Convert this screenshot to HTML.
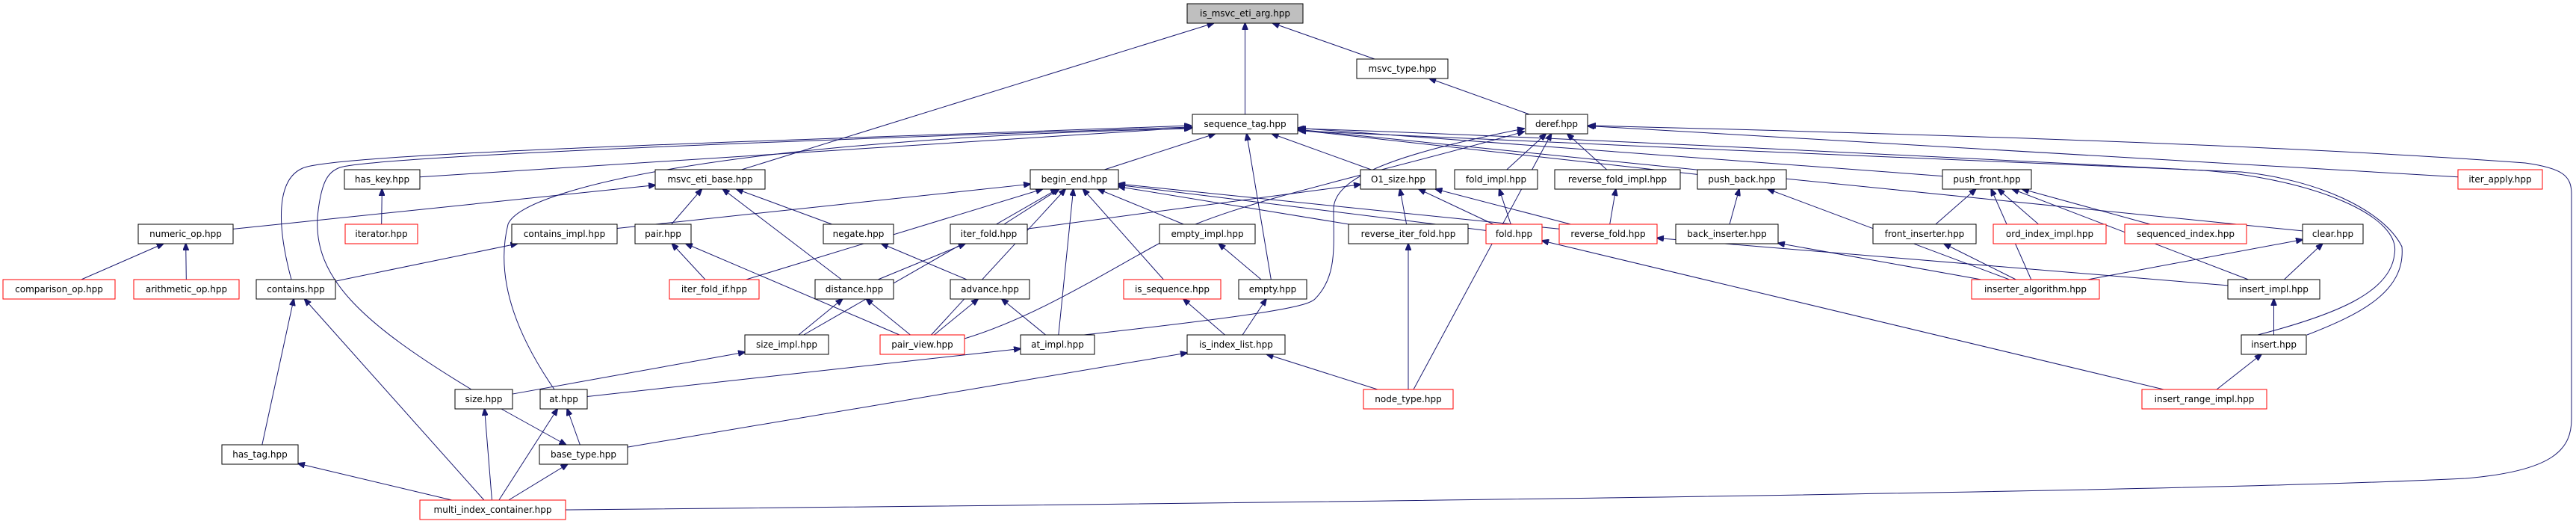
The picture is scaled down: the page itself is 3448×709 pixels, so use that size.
<!DOCTYPE html>
<html><head><meta charset="utf-8">
<style>
html,body{margin:0;padding:0;background:#fff;}
svg{display:block;}
text{font-family:"DejaVu Sans","Liberation Sans",sans-serif;font-size:12px;}
</style></head>
<body>
<svg id="g" width="3448" height="709" viewBox="0 0 3448 709" xmlns="http://www.w3.org/2000/svg">
<defs><marker id="a" markerWidth="10" markerHeight="8" refX="9" refY="4" orient="auto" markerUnits="userSpaceOnUse"><path d="M0,0 L10,4 L0,8 z" fill="#191970" stroke="#191970"/></marker></defs>
<g id="edges" fill="none" stroke="#191970" stroke-width="1">
<path d="M757,682 C1500,675 2900,660 3300,640 C3420,630 3442,600 3442,560 L3442,260 C3442,235 3430,225 3380,218 C3000,190 2400,175 2127,168" marker-end="url(#a)"/>
<path d="M390,374 C370,300 370,240 405,225 C450,205 1000,190 1594,168" marker-end="url(#a)"/>
<path d="M631,521 C480,430 420,370 425,290 C430,240 440,230 455,224 C500,210 1000,190 1594,170" marker-end="url(#a)"/>
<path d="M742,521 C700,460 660,380 680,300 C700,250 1000,185 1594,172" marker-end="url(#a)"/>
<path d="M1451,448 C1700,420 1750,410 1760,400 C1790,370 1785,330 1785,280 C1785,230 1900,200 2040,172" marker-end="url(#a)"/>
<path d="M1291,453 C1400,420 1500,350 1600,300 C1700,260 1850,230 2040,176" marker-end="url(#a)"/>
<path d="M3022,448 C3130,420 3200,390 3205,340 C3215,290 3100,240 2950,228 C2600,210 2000,180 1739,172" marker-end="url(#a)"/>
<path d="M3088,448 C3160,420 3220,390 3215,330 C3190,280 3100,240 3000,230 C2700,220 2100,190 1739,175" marker-end="url(#a)"/>
</g>
<g id="nodes" stroke-width="1">
<rect x="1589" y="5" width="155" height="26" fill="#bfbfbf" stroke="#000"/><text x="1666.5" y="22" text-anchor="middle">is_msvc_eti_arg.hpp</text>
<rect x="1816" y="79" width="122" height="26" fill="#fff" stroke="#000"/><text x="1877" y="96" text-anchor="middle">msvc_type.hpp</text>
<rect x="1596" y="153" width="141" height="26" fill="#fff" stroke="#000"/><text x="1666.5" y="170" text-anchor="middle">sequence_tag.hpp</text>
<rect x="2042" y="153" width="83" height="26" fill="#fff" stroke="#000"/><text x="2083.5" y="170" text-anchor="middle">deref.hpp</text>
<rect x="461" y="227" width="101" height="26" fill="#fff" stroke="#000"/><text x="511.5" y="244" text-anchor="middle">has_key.hpp</text>
<rect x="877" y="227" width="147" height="26" fill="#fff" stroke="#000"/><text x="950.5" y="244" text-anchor="middle">msvc_eti_base.hpp</text>
<rect x="1379" y="227" width="118" height="26" fill="#fff" stroke="#000"/><text x="1438" y="244" text-anchor="middle">begin_end.hpp</text>
<rect x="1821" y="227" width="101" height="26" fill="#fff" stroke="#000"/><text x="1871.5" y="244" text-anchor="middle">O1_size.hpp</text>
<rect x="1947" y="227" width="111" height="26" fill="#fff" stroke="#000"/><text x="2002.5" y="244" text-anchor="middle">fold_impl.hpp</text>
<rect x="2081" y="227" width="168" height="26" fill="#fff" stroke="#000"/><text x="2165" y="244" text-anchor="middle">reverse_fold_impl.hpp</text>
<rect x="2272" y="227" width="119" height="26" fill="#fff" stroke="#000"/><text x="2331.5" y="244" text-anchor="middle">push_back.hpp</text>
<rect x="2600" y="227" width="119" height="26" fill="#fff" stroke="#000"/><text x="2659.5" y="244" text-anchor="middle">push_front.hpp</text>
<rect x="3290" y="227" width="113" height="26" fill="#fff" stroke="#f00"/><text x="3346.5" y="244" text-anchor="middle">iter_apply.hpp</text>
<rect x="185" y="300" width="127" height="26" fill="#fff" stroke="#000"/><text x="248.5" y="317" text-anchor="middle">numeric_op.hpp</text>
<rect x="462" y="300" width="97" height="26" fill="#fff" stroke="#f00"/><text x="510.5" y="317" text-anchor="middle">iterator.hpp</text>
<rect x="685" y="300" width="141" height="26" fill="#fff" stroke="#000"/><text x="755.5" y="317" text-anchor="middle">contains_impl.hpp</text>
<rect x="850" y="300" width="75" height="26" fill="#fff" stroke="#000"/><text x="887.5" y="317" text-anchor="middle">pair.hpp</text>
<rect x="1102" y="300" width="94" height="26" fill="#fff" stroke="#000"/><text x="1149" y="317" text-anchor="middle">negate.hpp</text>
<rect x="1272" y="300" width="103" height="26" fill="#fff" stroke="#000"/><text x="1323.5" y="317" text-anchor="middle">iter_fold.hpp</text>
<rect x="1552" y="300" width="128" height="26" fill="#fff" stroke="#000"/><text x="1616" y="317" text-anchor="middle">empty_impl.hpp</text>
<rect x="1805" y="300" width="160" height="26" fill="#fff" stroke="#000"/><text x="1885" y="317" text-anchor="middle">reverse_iter_fold.hpp</text>
<rect x="1989" y="300" width="75" height="26" fill="#fff" stroke="#f00"/><text x="2026.5" y="317" text-anchor="middle">fold.hpp</text>
<rect x="2087" y="300" width="131" height="26" fill="#fff" stroke="#f00"/><text x="2152.5" y="317" text-anchor="middle">reverse_fold.hpp</text>
<rect x="2243" y="300" width="137" height="26" fill="#fff" stroke="#000"/><text x="2311.5" y="317" text-anchor="middle">back_inserter.hpp</text>
<rect x="2507" y="300" width="138" height="26" fill="#fff" stroke="#000"/><text x="2576" y="317" text-anchor="middle">front_inserter.hpp</text>
<rect x="2668" y="300" width="151" height="26" fill="#fff" stroke="#f00"/><text x="2743.5" y="317" text-anchor="middle">ord_index_impl.hpp</text>
<rect x="2844" y="300" width="163" height="26" fill="#fff" stroke="#f00"/><text x="2925.5" y="317" text-anchor="middle">sequenced_index.hpp</text>
<rect x="3082" y="300" width="81" height="26" fill="#fff" stroke="#000"/><text x="3122.5" y="317" text-anchor="middle">clear.hpp</text>
<rect x="4" y="374" width="150" height="26" fill="#fff" stroke="#f00"/><text x="79" y="391" text-anchor="middle">comparison_op.hpp</text>
<rect x="179" y="374" width="141" height="26" fill="#fff" stroke="#f00"/><text x="249.5" y="391" text-anchor="middle">arithmetic_op.hpp</text>
<rect x="343" y="374" width="106" height="26" fill="#fff" stroke="#000"/><text x="396" y="391" text-anchor="middle">contains.hpp</text>
<rect x="896" y="374" width="120" height="26" fill="#fff" stroke="#f00"/><text x="956" y="391" text-anchor="middle">iter_fold_if.hpp</text>
<rect x="1091" y="374" width="105" height="26" fill="#fff" stroke="#000"/><text x="1143.5" y="391" text-anchor="middle">distance.hpp</text>
<rect x="1272" y="374" width="106" height="26" fill="#fff" stroke="#000"/><text x="1325" y="391" text-anchor="middle">advance.hpp</text>
<rect x="1504" y="374" width="130" height="26" fill="#fff" stroke="#f00"/><text x="1569" y="391" text-anchor="middle">is_sequence.hpp</text>
<rect x="1658" y="374" width="91" height="26" fill="#fff" stroke="#000"/><text x="1703.5" y="391" text-anchor="middle">empty.hpp</text>
<rect x="2639" y="374" width="171" height="26" fill="#fff" stroke="#f00"/><text x="2724.5" y="391" text-anchor="middle">inserter_algorithm.hpp</text>
<rect x="2982" y="374" width="123" height="26" fill="#fff" stroke="#000"/><text x="3043.5" y="391" text-anchor="middle">insert_impl.hpp</text>
<rect x="997" y="448" width="112" height="26" fill="#fff" stroke="#000"/><text x="1053" y="465" text-anchor="middle">size_impl.hpp</text>
<rect x="1178" y="448" width="113" height="26" fill="#fff" stroke="#f00"/><text x="1234.5" y="465" text-anchor="middle">pair_view.hpp</text>
<rect x="1366" y="448" width="99" height="26" fill="#fff" stroke="#000"/><text x="1415.5" y="465" text-anchor="middle">at_impl.hpp</text>
<rect x="1589" y="448" width="131" height="26" fill="#fff" stroke="#000"/><text x="1654.5" y="465" text-anchor="middle">is_index_list.hpp</text>
<rect x="3000" y="448" width="87" height="26" fill="#fff" stroke="#000"/><text x="3043.5" y="465" text-anchor="middle">insert.hpp</text>
<rect x="609" y="521" width="77" height="26" fill="#fff" stroke="#000"/><text x="647.5" y="538" text-anchor="middle">size.hpp</text>
<rect x="723" y="521" width="63" height="26" fill="#fff" stroke="#000"/><text x="754.5" y="538" text-anchor="middle">at.hpp</text>
<rect x="1825" y="521" width="120" height="26" fill="#fff" stroke="#f00"/><text x="1885" y="538" text-anchor="middle">node_type.hpp</text>
<rect x="2867" y="521" width="167" height="26" fill="#fff" stroke="#f00"/><text x="2950.5" y="538" text-anchor="middle">insert_range_impl.hpp</text>
<rect x="297" y="595" width="102" height="26" fill="#fff" stroke="#000"/><text x="348" y="612" text-anchor="middle">has_tag.hpp</text>
<rect x="722" y="595" width="118" height="26" fill="#fff" stroke="#000"/><text x="781" y="612" text-anchor="middle">base_type.hpp</text>
<rect x="562" y="669" width="195" height="26" fill="#fff" stroke="#f00"/><text x="659.5" y="686" text-anchor="middle">multi_index_container.hpp</text>
</g>
</svg>
<script>
(function(){
var N={};
var rects=document.querySelectorAll('#nodes rect');
rects.forEach(function(r){var t=r.nextElementSibling;N[t.textContent.replace('.hpp','')]={x:+r.getAttribute('x'),y:+r.getAttribute('y'),w:+r.getAttribute('width'),h:+r.getAttribute('height')};});
var E=[
['is_msvc_eti_arg','msvc_eti_base'],['is_msvc_eti_arg','sequence_tag'],['is_msvc_eti_arg','msvc_type'],['msvc_type','deref'],
['sequence_tag','has_key'],['sequence_tag','begin_end'],['sequence_tag','O1_size'],['sequence_tag','empty'],['sequence_tag','push_back'],['sequence_tag','push_front'],['sequence_tag','clear'],
['deref','fold_impl'],['deref','reverse_fold_impl'],['deref','iter_apply'],['deref','node_type'],
['msvc_eti_base','pair'],['msvc_eti_base','negate'],['msvc_eti_base','distance'],['msvc_eti_base','numeric_op'],
['has_key','iterator'],['numeric_op','comparison_op'],['numeric_op','arithmetic_op'],['contains_impl','contains'],['contains','has_tag'],['contains','multi_index_container'],
['pair','iter_fold_if'],['pair','pair_view'],
['begin_end','iter_fold_if'],['begin_end','size_impl'],['begin_end','pair_view'],['begin_end','iter_fold'],['begin_end','empty_impl'],['begin_end','is_sequence'],['begin_end','at_impl'],['begin_end','fold'],['begin_end','reverse_fold'],['begin_end','reverse_iter_fold'],['begin_end','contains_impl'],
['O1_size','iter_fold'],['O1_size','reverse_iter_fold'],['O1_size','fold'],['O1_size','reverse_fold'],
['iter_fold','distance'],['negate','advance'],['distance','size_impl'],['distance','pair_view'],['advance','pair_view'],['advance','at_impl'],
['size_impl','size'],['at_impl','at'],['empty_impl','empty'],['empty','is_index_list'],['is_sequence','is_index_list'],['is_index_list','node_type'],['is_index_list','base_type'],['reverse_iter_fold','node_type'],
['fold_impl','fold'],['reverse_fold_impl','reverse_fold'],['push_back','back_inserter'],['push_back','inserter_algorithm'],['back_inserter','inserter_algorithm'],
['push_front','front_inserter'],['push_front','ord_index_impl'],['push_front','sequenced_index'],['push_front','inserter_algorithm'],['push_front','insert_impl'],['front_inserter','inserter_algorithm'],
['reverse_fold','insert_impl'],['fold','insert_range_impl'],['clear','inserter_algorithm'],['clear','insert_impl'],['insert_impl','insert'],['insert','insert_range_impl'],
['size','multi_index_container'],['base_type','size'],['at','base_type'],['at','multi_index_container'],['base_type','multi_index_container'],['has_tag','multi_index_container']
];
function clip(b,qx,qy){var cx=b.x+b.w/2,cy=b.y+b.h/2,dx=qx-cx,dy=qy-cy;var sx=dx?(b.w/2)/Math.abs(dx):1e9,sy=dy?(b.h/2)/Math.abs(dy):1e9;var s=Math.min(sx,sy);return [cx+dx*s,cy+dy*s];}
var g=document.getElementById('edges');
E.forEach(function(e){var p=N[e[0]],c=N[e[1]];if(!p||!c)return;
var pcx=p.x+p.w/2,pcy=p.y+p.h/2,ccx=c.x+c.w/2,ccy=c.y+c.h/2;
var s=clip(c,pcx,pcy),t=clip(p,ccx,ccy);
var l=document.createElementNS('http://www.w3.org/2000/svg','line');
l.setAttribute('x1',s[0]);l.setAttribute('y1',s[1]);l.setAttribute('x2',t[0]);l.setAttribute('y2',t[1]);l.setAttribute('marker-end','url(#a)');g.appendChild(l);});
})();
</script>
</body></html>
